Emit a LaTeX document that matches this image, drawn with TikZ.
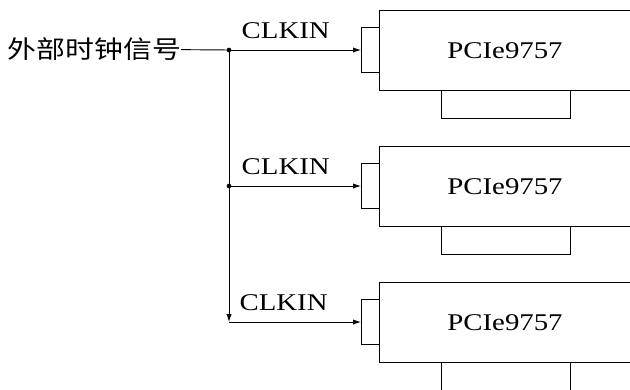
\documentclass[tikz,border=0pt]{standalone}
\usepackage{fontspec}
\usetikzlibrary{arrows.meta}
\setmainfont{Liberation Serif}[FakeStretch=1.2]
\newfontfamily\cjk{Noto Sans CJK SC}[FakeStretch=1.17]
\begin{document}
\begin{tikzpicture}[x=0.75pt,y=-0.75pt,line width=0.7pt,>={Latex[length=6pt,width=4pt]},
  every node/.style={inner sep=0pt,outer sep=0pt},
  txt/.style={font=\fontsize{18pt}{20pt}\selectfont},
  board/.style={draw,anchor=north west,minimum width=300pt,minimum height=60pt},
  port/.style={draw,anchor=east,minimum width=13.5pt,minimum height=34pt},
  tab/.style={draw,anchor=north west,minimum width=96.75pt,minimum height=21pt},
  dot/.style={circle,fill,minimum size=3.5pt}]
 \useasboundingbox (0,0) rectangle (630,389);
 \clip (0,0) rectangle (630,389);
 \node (Src) [txt,font=\cjk\fontsize{18.5pt}{20pt}\selectfont,anchor=east] at (181,49) {外部时钟信号};
 \node (J1) [dot] at (229,50) {};
 \node (J2) [dot] at (229,186) {};
 \coordinate (J3) at (229,322);
 % boards
 \node (B1) [board] at (379,10) {};
 \node (B2) [board] at (379,146) {};
 \node (B3) [board] at (379,282) {};
 \node (P1) [port] at (379,50) {};
 \node (P2) [port] at (379,186) {};
 \node (P3) [port] at (379,322) {};
 \node (T1) [tab] at (441,90) {};
 \node (T2) [tab] at (441,226) {};
 \node (N1) [txt] at (505,51) {PCIe9757};
 \node (N2) [txt] at (505,187) {PCIe9757};
 \node (N3) [txt] at (505,323) {PCIe9757};
 \draw (441,362) -- (441,395) (570,362) -- (570,395);
 % clock lines
 \path (Src) edge (J1);
 \path (J1) edge [->] node[txt,anchor=base west,pos=0.08,yshift=9pt] {CLKIN} (P1);
 \path (J2) edge [->] node[txt,anchor=base west,pos=0.08,yshift=9pt] {CLKIN} (P2);
 \path (J1) edge [->] (J3);
 \path (J3) edge [->] node[txt,anchor=base west,pos=0.08,yshift=9pt] {CLKIN} (P3);
\end{tikzpicture}
\end{document}
